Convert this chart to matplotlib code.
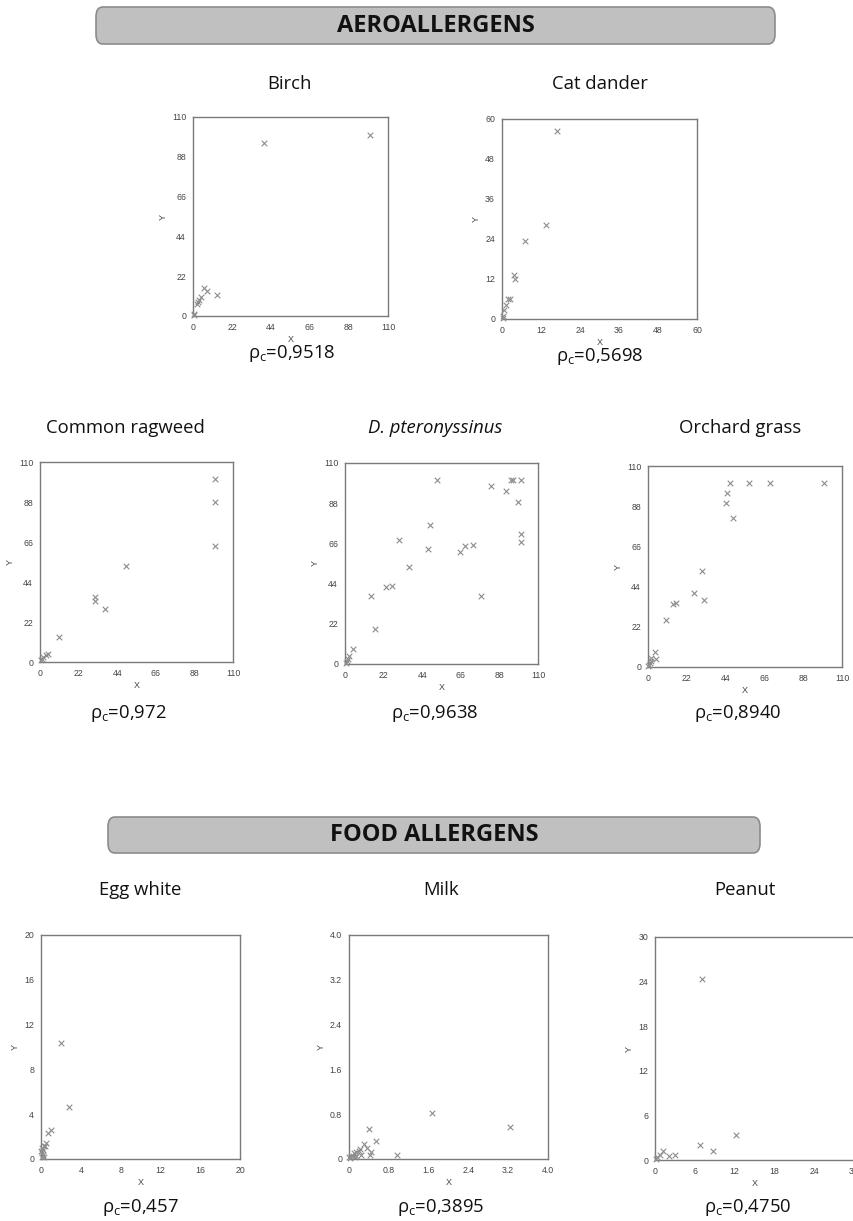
import numpy as np
import matplotlib.pyplot as plt
from matplotlib.patches import FancyBboxPatch

W, H = 854, 1221

# values
birch_x = [40.2, 99.6, 13.6, 7.9, 6.2, 4.5, 3.5, 3.0, 2.5, 0.5, 0.3]
birch_y = [95.6, 100.2, 11.6, 14.0, 15.5, 10.5, 9.0, 8.0, 6.5, 1.0, 0.3]

cat_x = [16.8, 13.5, 7.0, 3.7, 4.1, 2.4, 2.0, 1.1, 0.6, 0.3, 0.2]
cat_y = [56.5, 28.3, 23.3, 13.3, 12.0, 6.0, 6.0, 4.3, 2.8, 0.8, 0.3]

ragweed_x = [100, 100, 100, 49.3, 31.5, 31.5, 37.0, 10.6, 4.7, 3.4, 1.9, 0.9, 0.4]
ragweed_y = [100.7, 87.8, 63.8, 52.8, 36.0, 33.6, 29.2, 13.9, 4.4, 3.8, 2.7, 1.6, 1.1]

dpter_x = [52.4, 83.4, 91.8, 94.7, 95.8, 100.4, 98.5, 100.2, 100.2, 48.2, 30.5, 47.2,
           65.7, 68.6, 72.8, 36.6, 23.2, 27.0, 14.7, 77.3, 17.1, 4.8, 2.1, 1.7, 1.0, 0.6]
dpter_y = [100.5, 97.6, 94.7, 100.7, 100.7, 100.7, 88.6, 70.9, 67.0, 76.2, 67.6, 63.0,
           61.5, 64.8, 65.2, 53.3, 42.1, 42.5, 37.0, 37.4, 19.2, 8.4, 4.6, 2.7, 1.5, 0.7]

orchard_x = [46.5, 57.5, 69.4, 100, 44.6, 44.2, 48.0, 30.7, 26.0, 31.5, 14.2, 16.1,
             10.2, 3.8, 4.4, 1.9, 1.5, 0.9, 0.6, 0.2]
orchard_y = [100.5, 100.5, 100.5, 100.5, 95.1, 90.0, 81.6, 52.6, 40.5, 36.7, 34.7, 35.0,
             25.9, 8.2, 4.4, 5.1, 3.3, 2.2, 1.3, 0.5]

egg_x = [1.98, 2.78, 0.97, 0.7, 0.47, 0.3, 0.17, 0.13, 0.23, 0.07, 0.33, 0.03, 0.4, 0.1]
egg_y = [10.4, 4.67, 2.6, 2.3, 1.4, 1.16, 0.8, 0.5, 0.33, 0.15, 0.15, 0.68, 1.2, 1.0]

milk_x = [1.67, 3.24, 0.41, 0.54, 0.96, 0.31, 0.36, 0.44, 0.42, 0.22, 0.15, 0.1,
          0.05, 0.08, 0.15, 0.01, 0.25, 0.2, 0.12, 0.03]
milk_y = [0.82, 0.58, 0.54, 0.33, 0.07, 0.26, 0.19, 0.13, 0.07, 0.17, 0.13, 0.1,
          0.06, 0.06, 0.06, 0.04, 0.08, 0.15, 0.03, 0.02]

peanut_x = [7.1, 12.2, 6.8, 8.8, 3.0, 2.1, 1.16, 0.75, 0.3, 0.1]
peanut_y = [24.3, 3.3, 1.97, 1.16, 0.7, 0.55, 1.16, 0.7, 0.45, 0.2]

titles = ['Birch', 'Cat dander', 'Common ragweed', 'D. pteronyssinus', 'Orchard grass',
          'Egg white', 'Milk', 'Peanut']
rho_labels = ['0,9518', '0,5698', '0,972', '0,9638', '0,8940', '0,457', '0,3895', '0,4750']
axis_max = [110, 60, 110, 110, 110, 20, 4.0, 30]
tick_step = [22, 12, 22, 22, 22, 4, 0.8, 6]

xs = [birch_x, cat_x, ragweed_x, dpter_x, orchard_x, egg_x, milk_x, peanut_x]
ys = [birch_y, cat_y, ragweed_y, dpter_y, orchard_y, egg_y, milk_y, peanut_y]

# layout in pixels: axes box (left, top, right, bottom), title pos, rho pos
boxes = [(193, 117, 388, 316), (502, 119, 697, 319),
         (40, 462, 233, 662), (345, 463, 538, 664), (648, 466, 842, 667),
         (41, 935, 240, 1159), (349, 935, 548, 1159), (655, 937, 854, 1160)]
title_pos = [(290, 84), (600, 84), (125, 428), (435, 428), (740, 428),
             (140, 890), (441, 890), (745, 890)]
rho_pos = [(292, 353), (600, 357), (128, 714), (435, 714), (738, 714),
           (140, 1207), (441, 1207), (748, 1207)]

plt.rcParams['mathtext.fontset'] = 'custom'
plt.rcParams['mathtext.rm'] = 'Open Sans'
plt.rcParams['mathtext.it'] = 'Open Sans:italic'

fig = plt.figure(figsize=(W / 100, H / 100), dpi=100)
fig.patch.set_facecolor('white')


def px_axes(l, t, r, b):
    return fig.add_axes([l / W, 1 - b / H, (r - l) / W, (b - t) / H])


def banner(l, t, r, b, label):
    box = FancyBboxPatch((l / W, 1 - b / H), (r - l) / W, (b - t) / H,
                         boxstyle='round,pad=0,rounding_size=0.008',
                         transform=fig.transFigure, facecolor='#c0c0c0',
                         edgecolor='#8c8c8c', linewidth=1.2)
    fig.patches.append(box)
    fig.text((l + r) / 2 / W, 1 - (t + b) / 2 / H, label, ha='center', va='center',
             fontsize=17, fontweight='bold', family='Open Sans', color='#111111')


banner(96, 7, 775, 44, 'AEROALLERGENS')
banner(108, 817, 760, 853, 'FOOD ALLERGENS')

for i in range(8):
    ax = px_axes(*boxes[i])
    ax.scatter(xs[i], ys[i], marker='x', s=16, color='#8c8c8c', linewidths=0.8,
               clip_on=False, zorder=3)
    m = axis_max[i]
    ticks = np.arange(0, m + tick_step[i] / 2, tick_step[i])
    if m < 10:
        labels = ['0'] + ['%.1f' % t for t in ticks[1:]]
    else:
        labels = ['%d' % t for t in ticks]
    ax.set_xlim(0, m)
    ax.set_ylim(0, m)
    ax.set_xticks(ticks)
    ax.set_yticks(ticks)
    ax.set_xticklabels(labels)
    ax.set_yticklabels(labels)
    ax.tick_params(length=0, labelsize=6.3, colors='#444444', pad=5)
    for lab in ax.get_xticklabels() + ax.get_yticklabels():
        lab.set_family('Liberation Sans')
    for sp in ax.spines.values():
        sp.set_color('#7a7a7a')
        sp.set_linewidth(1.0)
    ax.set_xlabel('X', fontsize=6.5, color='#444444', family='Liberation Sans', labelpad=2)
    ax.set_ylabel('Y', fontsize=6.5, color='#444444', family='Liberation Sans', labelpad=3)

    tx, ty = title_pos[i]
    style = 'italic' if titles[i].startswith('D.') else 'normal'
    fig.text(tx / W, 1 - ty / H, titles[i], ha='center', va='center', fontsize=13.3,
             family='Open Sans', style=style, color='#111111')
    rx, ry = rho_pos[i]
    fig.text(rx / W, 1 - ry / H, r'$\mathrm{\rho_c}$=' + rho_labels[i], ha='center',
             va='center', fontsize=13.3, family='Open Sans', color='#111111')

fig.savefig('out.png', dpi=100)
